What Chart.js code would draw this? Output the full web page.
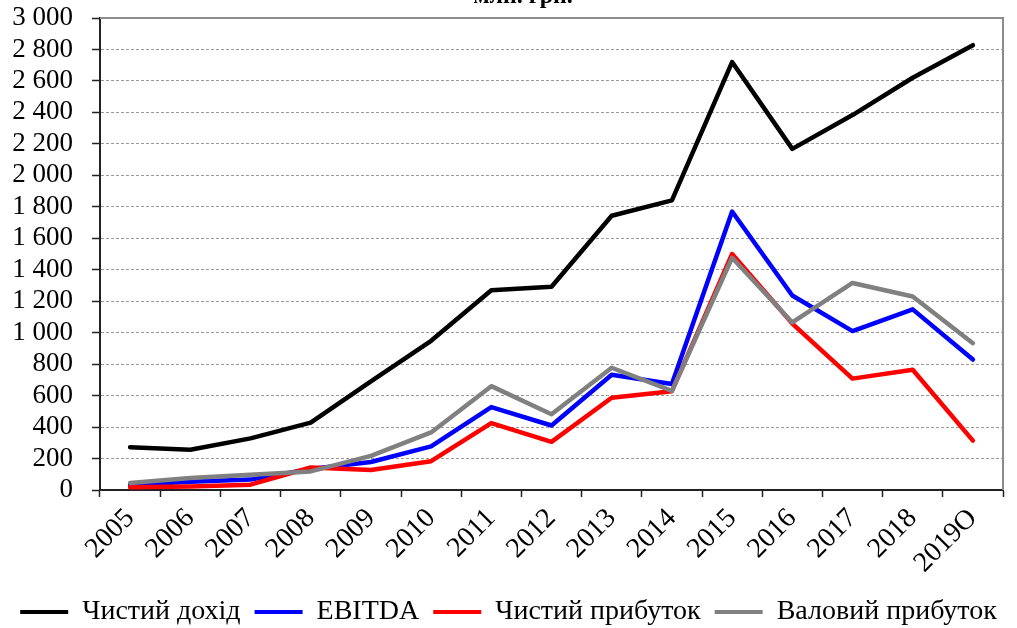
<!DOCTYPE html>
<html>
<head>
<meta charset="utf-8">
<script src="https://cdn.jsdelivr.net/npm/chart.js@4.4.1/dist/chart.umd.min.js"></script>
<style>
  html, body { margin: 0; padding: 0; background: #ffffff; }
  #wrap { position: relative; width: 1017px; height: 628px; }
</style>
</head>
<body>
<div id="wrap"><canvas id="c"></canvas></div>
<script>
const categories = ['2005','2006','2007','2008','2009','2010','2011','2012','2013','2014','2015','2016','2017','2018','2019О'];
const seriesNames = ['Чистий дохід','EBITDA','Чистий прибуток','Валовий прибуток'];
const netRevenue  = [272, 256, 328, 428, 690, 948, 1269, 1292, 1743, 1841, 2720, 2168, 2383, 2620, 2827];
const ebitda      = [34, 52, 66, 134, 178, 277, 527, 410, 733, 674, 1770, 1236, 1010, 1148, 829];
const netProfit   = [17, 23, 34, 143, 127, 183, 425, 306, 586, 628, 1500, 1058, 708, 764, 314];
const grossProfit = [45, 77, 97, 118, 217, 366, 660, 482, 777, 630, 1476, 1065, 1316, 1230, 933];
const yTickValues = [0,200,400,600,800,1000,1200,1400,1600,1800,2000,2200,2400,2600,2800,3000];
const titleText = 'млн. грн.';

const SERIF = '"Liberation Serif", "Times New Roman", serif';
const fmt = v => String(v).replace(/\B(?=(\d{3})+(?!\d))/g, ' ');

const frame = {
  id: 'frame',
  beforeDatasetsDraw(chart) {
    const {ctx, chartArea: a} = chart;
    ctx.save();
    ctx.strokeStyle = '#8c8c8c';
    ctx.lineWidth = 2;
    ctx.beginPath();
    ctx.moveTo(a.left, a.top);
    ctx.lineTo(a.right, a.top);
    ctx.lineTo(a.right, a.bottom);
    ctx.stroke();
    ctx.restore();
  },
  afterDraw(chart) {
    const {ctx} = chart;
    ctx.save();
    ctx.font = 'bold 24px ' + SERIF;
    ctx.fillStyle = '#000';
    ctx.textAlign = 'center';
    ctx.textBaseline = 'alphabetic';
    ctx.fillText(titleText, 523, 3);
    ctx.restore();
  }
};

const colors = ['#000000', '#0000ff', '#ff0000', '#808080'];
const dataArr = [netRevenue, ebitda, netProfit, grossProfit];

new Chart(document.getElementById('c'), {
  type: 'line',
  data: {
    labels: categories,
    datasets: seriesNames.map((n, i) => ({
      label: n,
      data: dataArr[i],
      borderColor: colors[i],
      backgroundColor: colors[i],
      borderWidth: 4.5,
      pointRadius: 0,
      tension: 0,
      borderJoinStyle: 'round',
      borderCapStyle: 'round',
      order: 4 - i
    }))
  },
  options: {
    responsive: true,
    maintainAspectRatio: false,
    animation: false,
    layout: { padding: { left: 0, right: 0, top: 18, bottom: -8 } },
    plugins: {
      title: { display: false },
      tooltip: { enabled: false },
      legend: {
        display: true,
        position: 'bottom',
        labels: {
          font: { family: SERIF, size: 28 },
          color: '#000',
          boxWidth: 48,
          boxHeight: 4,
          padding: 14,
          sort: (a, b) => a.datasetIndex - b.datasetIndex,
          generateLabels(chart) {
            return chart.data.datasets.map((d, i) => ({
              text: d.label,
              fillStyle: d.borderColor,
              strokeStyle: d.borderColor,
              lineWidth: 0,
              hidden: false,
              datasetIndex: i
            }));
          }
        }
      }
    },
    scales: {
      x: {
        offset: true,
        grid: { display: true, offset: true, drawOnChartArea: false, drawTicks: true, tickLength: 7, tickColor: '#222', tickWidth: 1.5 },
        border: { display: true, color: '#222', width: 2 },
        ticks: {
          font: { family: SERIF, size: 28 },
          color: '#000',
          minRotation: 45,
          maxRotation: 45,
          autoSkip: false,
          padding: 5
        },
        afterFit(scale) { scale.height = 94; }
      },
      y: {
        min: 0,
        max: 3000,
        afterBuildTicks(scale) { scale.ticks = yTickValues.map(v => ({ value: v })); },
        grid: { color: '#9a9a9a', lineWidth: 1, drawTicks: true, tickLength: 8, tickColor: '#222', tickWidth: 1.5, tickBorderDash: [] },
        border: { display: true, color: '#222', width: 2, dash: [3, 2] },
        ticks: {
          font: { family: SERIF, size: 27 },
          color: '#000',
          padding: 19,
          autoSkip: false,
          callback: v => fmt(v)
        },
        afterFit(scale) { scale.width = 100; scale.paddingTop = 0; scale.paddingBottom = 0; }
      },
      yPad: {
        position: 'right',
        display: true,
        grid: { display: false, drawTicks: false },
        border: { display: false },
        ticks: { display: false },
        afterFit(scale) { scale.width = 14; scale.paddingTop = 0; scale.paddingBottom = 0; }
      }
    }
  },
  plugins: [frame]
});
</script>
</body>
</html>
